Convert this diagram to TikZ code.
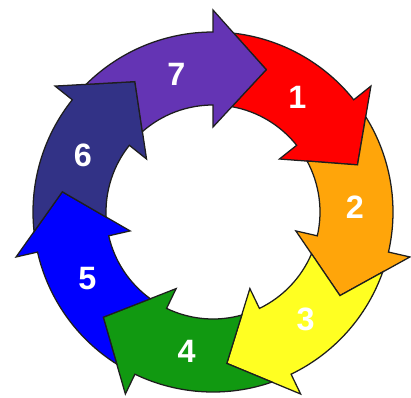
\documentclass[tikz,border=0pt]{standalone}
\usepackage{fontspec}
\usepackage{xcolor}
\usepackage{tikz}
\setmainfont{Liberation Sans}
\definecolor{cyRed}{HTML}{FF0000}
\definecolor{cyOrange}{HTML}{FFA50A}
\definecolor{cyYellow}{HTML}{FFFF22}
\definecolor{cyGreen}{HTML}{119911}
\definecolor{cyBlue}{HTML}{0000FF}
\definecolor{cyNavy}{HTML}{323286}
\definecolor{cyPurple}{HTML}{6434B4}
\definecolor{cyLine}{HTML}{1E1E1E}

\begin{document}
\begin{tikzpicture}[x=0.025cm,y=0.025cm,font=\fontsize{23}{23}\selectfont\bfseries,
  fleche/.style={fill=#1,draw=cyLine,line width=0.9pt,line join=miter},
  chiffre/.style={white,inner sep=0pt}]
  \useasboundingbox (-213,-185) rectangle (198,212);
  % les sept flèches du cycle (base de la pointe en \b, queue en \p)
  \foreach \b/\c/\n in {38.57/cyRed/1,-12.86/cyOrange/2,-64.29/cyYellow/3,-115.71/cyGreen/4,
                        -167.14/cyBlue/5,141.43/cyNavy/6,90/cyPurple/7} {
    \pgfmathsetmacro{\p}{\b+51.43}
    \pgfmathsetmacro{\po}{\p-6.6}
    \pgfmathsetmacro{\pin}{\p-10.1}
    \pgfmathsetmacro{\pt}{\p-20.5}
    \pgfmathsetmacro{\bt}{\b-20.5}
    \filldraw[fleche=\c] (\po:180) arc[start angle=\po,end angle=\b,radius=180]
      -- (\b:202) -- (\bt:152) -- (\b:85) -- (\b:107)
      arc[start angle=\b,end angle=\pin,radius=107] -- (\pt:152) -- cycle;
    \node[chiffre] (n\n) at ({\b+15}:142) {\n};
  }
\end{tikzpicture}
\end{document}
